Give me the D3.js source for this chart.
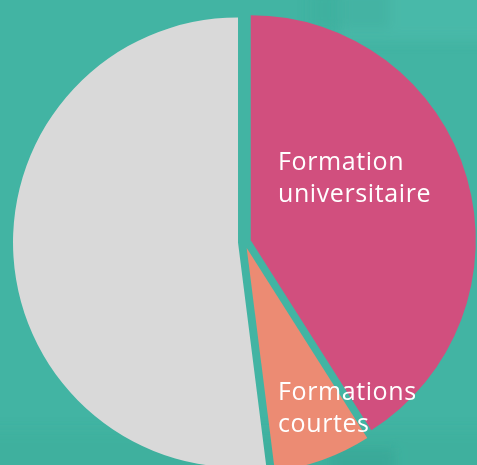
<!DOCTYPE html>
<html>
<head>
<meta charset="utf-8">
<script src="https://cdn.jsdelivr.net/npm/d3@7"></script>
<style>
  body { margin: 0; background: #42b4a3; }
  svg { display: block; }
</style>
</head>
<body>
<script>
const labels = ["Formation universitaire", "Formations courtes", "Autres"];
const values = [41, 7, 52];
const colors = ["#d14f7e", "#ec8b73", "#d9d9d9"];

const w = 477;
const h = 465;
const cx = 244.5;
const cy = 242;
const r = 225;
const explode = 6.5;

const svg = d3.select("body").append("svg").attr("width", w).attr("height", h);

// soft background texture (blurred photo behind the chart)
svg.append("defs").append("filter").attr("id", "blur")
  .attr("x", "-20%").attr("y", "-20%").attr("width", "140%").attr("height", "140%")
  .append("feGaussianBlur").attr("stdDeviation", 6);

svg.append("rect").attr("width", w).attr("height", h).attr("fill", "#42b4a3");
const bg = svg.append("g").attr("filter", "url(#blur)");
bg.append("rect").attr("x", 340).attr("y", -20).attr("width", 160).attr("height", 60)
  .attr("fill", "#4bbbab").attr("opacity", 0.7);
bg.append("rect").attr("x", 310).attr("y", -10).attr("width", 80).attr("height", 40)
  .attr("fill", "#3aa998").attr("opacity", 0.3);
bg.append("rect").attr("x", -20).attr("y", 430).attr("width", w + 40).attr("height", 50)
  .attr("fill", "#3aa896").attr("opacity", 0.3);
bg.append("rect").attr("x", 330).attr("y", 448).attr("width", 65).attr("height", 30)
  .attr("fill", "#34a08e").attr("opacity", 0.4);

const pie = d3.pie().sort(null).startAngle(0).endAngle(2 * Math.PI);
const arc = d3.arc().innerRadius(0).outerRadius(r);

const slices = pie(values);

svg.append("g")
  .attr("transform", `translate(${cx},${cy})`)
  .selectAll("path")
  .data(slices)
  .enter()
  .append("path")
  .attr("d", arc)
  .attr("fill", (d, i) => colors[i])
  .attr("transform", (d) => {
    const a = (d.startAngle + d.endAngle) / 2;
    return `translate(${Math.sin(a) * explode},${-Math.cos(a) * explode})`;
  });

// label placement (only the two coloured slices carry a label)
const labelPos = [
  { x: 278, y: 170, lines: ["Formation", "universitaire"] },
  { x: 278, y: 400, lines: ["Formations", "courtes"] }
];

labelPos.forEach((p) => {
  const t = svg.append("text")
    .attr("x", p.x)
    .attr("y", p.y)
    .attr("fill", "#ffffff")
    .attr("font-family", "'Open Sans', sans-serif")
    .attr("font-size", 25)
    .attr("font-weight", 500)
    .attr("letter-spacing", 0.6)
    .style("font-variant-ligatures", "none");
  p.lines.forEach((line, j) => {
    t.append("tspan").attr("x", p.x).attr("dy", j === 0 ? 0 : 32).text(line);
  });
});
</script>
</body>
</html>
